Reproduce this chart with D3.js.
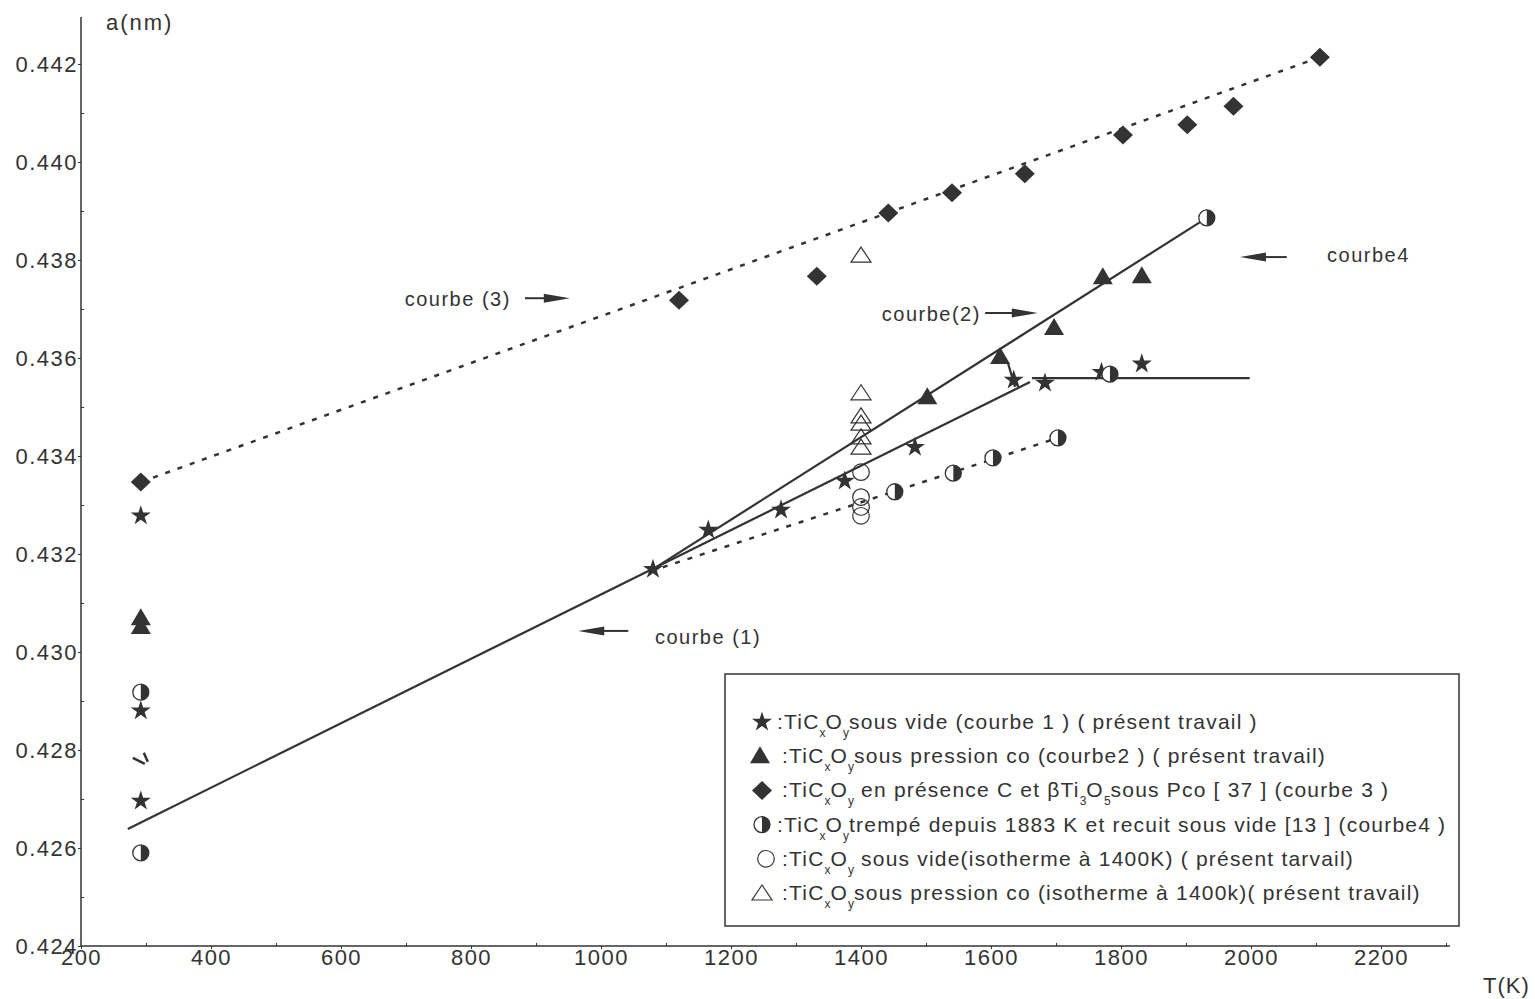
<!DOCTYPE html>
<html>
<head>
<meta charset="utf-8">
<script src="https://cdn.jsdelivr.net/npm/d3@7"></script>
<style>
body{margin:0;background:#fff}
svg text{font-family:"Liberation Sans",Arial,sans-serif;fill:#333}
</style>
</head>
<body>
<svg id="chart" width="1535" height="999"></svg>
<script>
// points [T (K), a (nm)]
var courbe1Pts = [[292,0.43278],[292,0.42880],[292,0.42696],[1080,0.43169],[1165,0.43249],[1277,0.43290],
                  [1375,0.43349],[1483,0.43418],[1635,0.43555],[1683,0.43549],[1770,0.43571],[1832,0.43588]];
var courbe2Pts = [[292,0.43069],[292,0.43051],[1502,0.43520],[1614,0.43602],[1697,0.43661],[1772,0.43765],[1832,0.43767]];
var courbe3Pts = [[292,0.43347],[1120,0.43718],[1332,0.43767],[1442,0.43896],[1540,0.43937],[1652,0.43976],
                  [1803,0.44055],[1902,0.44076],[1973,0.44114],[2106,0.44214]];
var courbe4Pts = [[292,0.42918],[292,0.42590],[1452,0.43327],[1542,0.43365],[1603,0.43396],[1703,0.43437],[1783,0.43567],[1932,0.43886]];
var isoVidePts = [[1400,0.43367],[1400,0.43316],[1400,0.43296],[1400,0.43278]];
var isoCoPts = [[1400,0.43810],[1400,0.43529],[1400,0.43482],[1400,0.43467],[1400,0.43439],[1400,0.43418]];
var strayPts = [[292,0.42784]];

// fitted curves
var solidLines = [
  [[272,0.42639],[1660,0.43551]],
  [[1663,0.43559],[1998,0.43559]],
  [[1080,0.43169],[1932,0.43886]],
  [[1626,0.43590],[1637,0.43541]]
];
var dottedLines = [
  [[292,0.43347],[2106,0.44214]],
  [[1095,0.43173],[1703,0.43437]]
];

// curve labels: text anchor, arrow tail, arrow tip
var curveLabels = [
  {text:"courbe (3)", at:[698,0.43706], from:[883,0.43722], to:[952,0.43722]},
  {text:"courbe(2)", at:[1432,0.43676], from:[1591,0.43692], to:[1672,0.43692]},
  {text:"courbe4", at:[2117,0.43796], from:[2055,0.43806], to:[1983,0.43806]},
  {text:"courbe (1)", at:[1083,0.43016], from:[1042,0.43043], to:[965,0.43043]}
];

var xTicks = d3.range(200, 2201, 200);
var yTicks = d3.range(0.424, 0.4425, 0.002);

var legendItems = [
  {sym:"star", parts:[[":TiC"],["x",1],["O"],["y",1],["sous vide (courbe 1 ) ( présent travail )"]]},
  {sym:"tri", parts:[[":TiC"],["x",1],["O"],["y",1],["sous pression co (courbe2 ) ( présent travail)"]]},
  {sym:"diamond", parts:[[":TiC"],["x",1],["O"],["y",1],[" en présence C et  βTi"],["3",1],["O"],["5",1],["sous Pco [ 37 ] (courbe 3 )"]]},
  {sym:"half", parts:[[":TiC"],["x",1],["O"],["y",1],["trempé depuis 1883 K  et recuit sous vide [13 ] (courbe4 )"]]},
  {sym:"circle", parts:[[":TiC"],["x",1],["O"],["y",1],[" sous vide(isotherme à 1400K) ( présent tarvail)"]]},
  {sym:"otri", parts:[[":TiC"],["x",1],["O"],["y",1],["sous pression co (isotherme à 1400k)( présent travail)"]]}
];

var ink = "#333";
var svg = d3.select("#chart");

var x = d3.scaleLinear().domain([200, 2200]).range([81, 1381]);
var y = d3.scaleLinear().domain([0.424, 0.442]).range([946, 64]);

/* axes */
svg.append("line").attr("x1", 81).attr("x2", x(2306)).attr("y1", y(0.424)).attr("y2", y(0.424))
  .attr("stroke", ink).attr("stroke-width", 1.5);
svg.append("line").attr("x1", 81).attr("x2", 81).attr("y1", y(0.424)).attr("y2", 17)
  .attr("stroke", ink).attr("stroke-width", 1.5);

svg.append("g").attr("transform", "translate(0," + y(0.424) + ")")
  .call(d3.axisBottom(x).tickValues(xTicks).tickSize(3).tickPadding(0).tickFormat(d3.format("d")));
svg.append("g").attr("transform", "translate(0," + y(0.424) + ")")
  .call(d3.axisBottom(x).tickValues(d3.range(300, 2301, 200)).tickSize(-3).tickFormat(""));
svg.append("g").attr("transform", "translate(81,0)")
  .call(d3.axisLeft(y).tickValues(yTicks).tickSize(3).tickPadding(0).tickFormat(d3.format(".3f")));
svg.append("g").attr("transform", "translate(81,0)")
  .call(d3.axisLeft(y).tickValues(d3.range(0.425, 0.4425, 0.002)).tickSize(-3).tickFormat(""));

svg.selectAll(".domain").remove();
svg.selectAll(".tick line").attr("stroke", ink);
svg.selectAll(".tick text").attr("fill", ink).style("font-size", "22px").style("letter-spacing", "1.5px")
  .attr("font-family", null);

svg.append("text").attr("x", 106).attr("y", 30).style("font-size", "22px").style("letter-spacing", "2px").text("a(nm)");
svg.append("text").attr("x", 1483).attr("y", 993).style("font-size", "22px").style("letter-spacing", "1px").text("T(K)");

/* lines */
var line = d3.line().x(function(d){ return x(d[0]); }).y(function(d){ return y(d[1]); });
svg.selectAll(".solid").data(solidLines).enter().append("path")
  .attr("d", line).attr("fill", "none").attr("stroke", ink).attr("stroke-width", 2.2);
svg.selectAll(".dotted").data(dottedLines).enter().append("path")
  .attr("d", line).attr("fill", "none").attr("stroke", ink).attr("stroke-width", 2.5)
  .attr("stroke-dasharray", "5,8");

/* markers */
var starPath = d3.symbol().type(d3.symbolStar).size(125)();
function drawSym(g, sym) {
  if (sym == "star") {
    g.append("path").attr("d", starPath).attr("fill", ink);
  } else if (sym == "tri") {
    g.append("path").attr("d", "M0,-10L10,7L-10,7Z").attr("fill", ink);
  } else if (sym == "diamond") {
    g.append("path").attr("d", "M0,-9.5L10,0L0,9.5L-10,0Z").attr("fill", ink);
  } else if (sym == "half") {
    g.append("circle").attr("r", 8).attr("fill", "#fff").attr("stroke", ink).attr("stroke-width", 1.3);
    g.append("path").attr("d", "M0,-8A8,8 0 0,1 0,8Z").attr("fill", ink);
  } else if (sym == "circle") {
    g.append("circle").attr("r", 8.3).attr("fill", "none").attr("stroke", ink).attr("stroke-width", 1.2);
  } else if (sym == "otri") {
    g.append("path").attr("d", "M0,-8L10,7L-10,7Z").attr("fill", "none").attr("stroke", ink).attr("stroke-width", 1.2);
  } else if (sym == "stray") {
    g.append("path").attr("d", "M-8,0L4,6M3,-5L7,4").attr("fill", "none").attr("stroke", ink).attr("stroke-width", 2.5);
  }
}
function plot(pts, sym) {
  svg.append("g").selectAll("g").data(pts).enter().append("g")
    .attr("transform", function(d){ return "translate(" + x(d[0]) + "," + y(d[1]) + ")"; })
    .each(function(){ drawSym(d3.select(this), sym); });
}
plot(isoCoPts, "otri");
plot(isoVidePts, "circle");
plot(courbe3Pts, "diamond");
plot(courbe2Pts, "tri");
plot(courbe1Pts, "star");
plot(courbe4Pts, "half");
plot(strayPts, "stray");

/* curve labels */
curveLabels.forEach(function(c) {
  svg.append("text").attr("x", x(c.at[0])).attr("y", y(c.at[1]))
    .style("font-size", "20px").style("letter-spacing", "1.5px").text(c.text);
  var x0 = x(c.from[0]), x1 = x(c.to[0]), yy = y(c.from[1]);
  var dir = x1 > x0 ? 1 : -1;
  svg.append("line").attr("x1", x0).attr("x2", x1 - dir * 20).attr("y1", yy).attr("y2", yy)
    .attr("stroke", ink).attr("stroke-width", 2);
  svg.append("path")
    .attr("d", "M" + x1 + "," + yy + "L" + (x1 - dir * 26) + "," + (yy - 4.5) + "L" + (x1 - dir * 26) + "," + (yy + 4.5) + "Z")
    .attr("fill", ink);
});

/* legend */
svg.append("rect").attr("x", 725).attr("y", 674).attr("width", 734).attr("height", 252)
  .attr("fill", "none").attr("stroke", ink).attr("stroke-width", 1.5);
var symX = {star:762, tri:760, diamond:762, half:762, circle:766, otri:762};
var txtX = {star:773, tri:778, diamond:778, half:773, circle:778, otri:778};
legendItems.forEach(function(it, i) {
  var cy = 722 + i * 34.2;
  var g = svg.append("g").attr("transform", "translate(" + symX[it.sym] + "," + cy + ")");
  drawSym(g, it.sym);
  var t = svg.append("text").attr("x", txtX[it.sym] + 4).attr("y", cy + 7)
    .style("font-size", "21px").style("letter-spacing", "1.2px");
  var shifted = false;
  it.parts.forEach(function(p) {
    var s = t.append("tspan").text(p[0]);
    if (p[1]) {
      s.style("font-size", "12px").style("letter-spacing", "0px").attr("dy", shifted ? 0 : 8);
      shifted = true;
    } else {
      if (shifted) s.attr("dy", -8);
      shifted = false;
    }
  });
});
</script>
</body>
</html>
